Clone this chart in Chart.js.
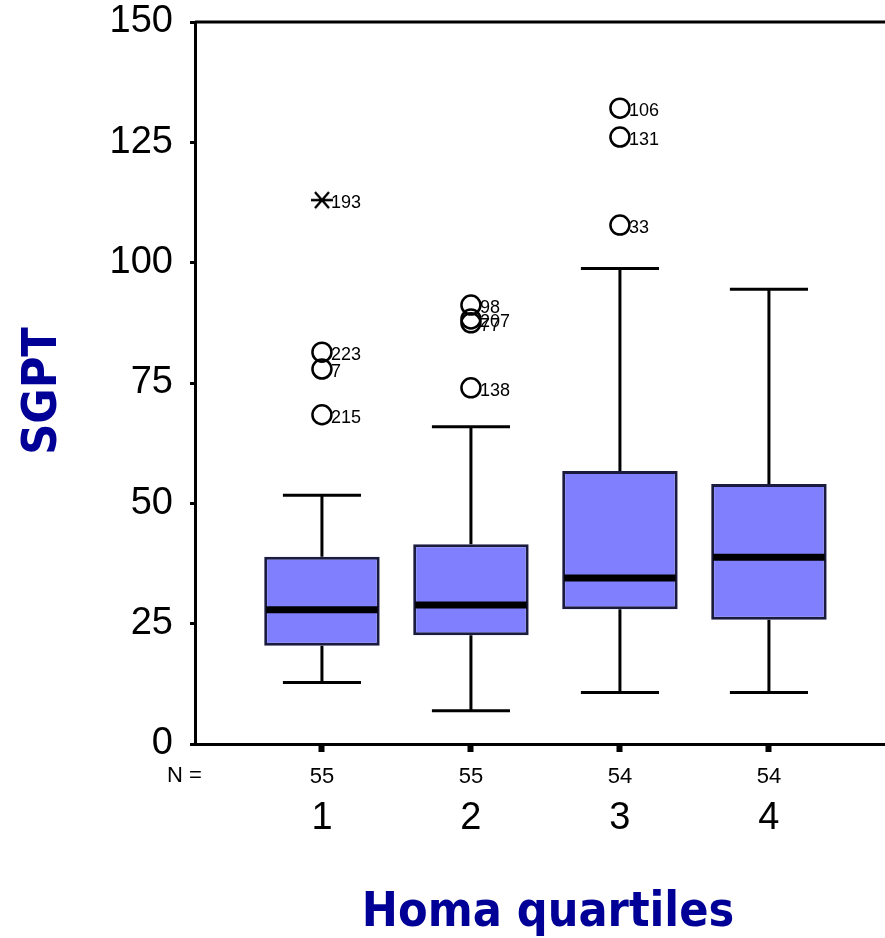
<!DOCTYPE html>
<html>
<head>
<meta charset="utf-8">
<script src="https://cdn.jsdelivr.net/npm/chart.js@4"></script>
<style>
  html, body { margin: 0; padding: 0; background: #fff; overflow: hidden; }
  canvas { display: block; }
</style>
</head>
<body>
<canvas id="box" width="885" height="938"></canvas>
<script>
// quartile groups and box statistics
const groups = [1, 2, 3, 4];
const nCounts = [55, 55, 54, 54];
const q1 = [20.4, 22.6, 28.0, 25.8];
const q3 = [38.9, 41.5, 56.7, 54.0];
const medians = [27.9, 28.9, 34.5, 38.8];
const whiskLo = [12.8, 6.9, 10.7, 10.7];
const whiskHi = [51.7, 65.9, 98.8, 94.5];

// outliers (circles) and extremes (asterisks) with case numbers
const outGroup = [1, 1, 1, 2, 2, 2, 2, 3, 3, 3];
const outValue = [81.4, 77.9, 68.4, 91.2, 88.3, 87.5, 74.0, 132.1, 126.1, 107.8];
const outCase = ["223", "7", "215", "98", "207", "77", "138", "106", "131", "33"];
const extGroup = [1];
const extValue = [113.0];
const extCase = ["193"];

const yMin = 0, yMax = 150, yStep = 25;

const FONT = "'Liberation Sans', Arial, sans-serif";
const TITLE_FONT = "'DejaVu Sans Condensed', 'DejaVu Sans', sans-serif";
const TITLE_COLOR = "#000096";
const BOX_HALF = 0.3875;   // half box width in x units
const CAP_HALF = 0.262;    // half whisker cap width

// asterisk marker for extreme values
function makeStar() {
  const c = document.createElement("canvas");
  c.width = 26; c.height = 26;
  const g = c.getContext("2d");
  g.strokeStyle = "#000";
  g.lineWidth = 2.4;
  g.beginPath();
  g.moveTo(2, 13); g.lineTo(24, 13);
  g.moveTo(6, 5); g.lineTo(20, 21);
  g.moveTo(20, 5); g.lineTo(6, 21);
  g.stroke();
  return c;
}

const boxDecor = {
  id: "boxDecor",
  beforeDatasetsDraw(chart) {
    const { ctx, scales: { x, y } } = chart;
    ctx.save();
    ctx.strokeStyle = "#000";
    ctx.lineWidth = 3;
    groups.forEach((g, i) => {
      const cx = x.getPixelForValue(g);
      const l = x.getPixelForValue(g - CAP_HALF), r = x.getPixelForValue(g + CAP_HALF);
      ctx.beginPath();
      ctx.moveTo(cx, y.getPixelForValue(q3[i]));
      ctx.lineTo(cx, y.getPixelForValue(whiskHi[i]));
      ctx.moveTo(cx, y.getPixelForValue(q1[i]));
      ctx.lineTo(cx, y.getPixelForValue(whiskLo[i]));
      ctx.moveTo(l, y.getPixelForValue(whiskHi[i]));
      ctx.lineTo(r, y.getPixelForValue(whiskHi[i]));
      ctx.moveTo(l, y.getPixelForValue(whiskLo[i]));
      ctx.lineTo(r, y.getPixelForValue(whiskLo[i]));
      ctx.stroke();
    });
    ctx.restore();
  },
  afterDatasetsDraw(chart) {
    const { ctx, chartArea, scales: { x, y } } = chart;
    ctx.save();
    // medians
    ctx.strokeStyle = "#000";
    ctx.lineWidth = 7;
    groups.forEach((g, i) => {
      const py = y.getPixelForValue(medians[i]);
      ctx.beginPath();
      ctx.moveTo(x.getPixelForValue(g - BOX_HALF) + 2, py);
      ctx.lineTo(x.getPixelForValue(g + BOX_HALF) - 2, py);
      ctx.stroke();
    });
    // case numbers beside outliers
    ctx.fillStyle = "#000";
    ctx.font = "18px " + FONT;
    ctx.textAlign = "left";
    ctx.textBaseline = "middle";
    const label = (g, v, t) => {
      ctx.fillText(t, x.getPixelForValue(g) + 9, y.getPixelForValue(v) + 3);
    };
    outGroup.forEach((g, i) => label(g, outValue[i], outCase[i]));
    extGroup.forEach((g, i) => label(g, extValue[i], extCase[i]));
    // top frame line
    ctx.lineWidth = 3;
    ctx.beginPath();
    ctx.moveTo(chartArea.left, chartArea.top);
    ctx.lineTo(chartArea.right, chartArea.top);
    ctx.stroke();
    ctx.restore();
  },
  afterDraw(chart) {
    const { ctx } = chart;
    ctx.save();
    ctx.fillStyle = "#000";
    ctx.font = "22px " + FONT;
    ctx.textAlign = "left";
    ctx.textBaseline = "middle";
    ctx.fillText("N =", 167, 776);

    ctx.fillStyle = TITLE_COLOR;
    ctx.font = "bold 48px " + TITLE_FONT;
    ctx.textAlign = "center";
    ctx.textBaseline = "alphabetic";
    ctx.fillText("Homa quartiles", 548, 926);

    ctx.translate(56, 391);
    ctx.rotate(-Math.PI / 2);
    ctx.fillText("SGPT", 0, 0);
    ctx.restore();
  }
};

const xMin = 0.148, xMax = 4.779;
const fixTicks = s => { s.ticks = groups.map(v => ({ value: v })); };
// keep the plot frame fixed: no extra room reserved for edge labels
const noEdgePad = s => { s.paddingLeft = 0; s.paddingRight = 0; s.paddingTop = 0; s.paddingBottom = 0; };

new Chart(document.getElementById("box"), {
  type: "bar",
  data: {
    datasets: [
      {
        type: "scatter",
        data: extGroup.map((g, i) => ({ x: g, y: extValue[i] })),
        pointStyle: makeStar(),
        order: 0
      },
      {
        type: "scatter",
        data: outGroup.map((g, i) => ({ x: g, y: outValue[i] })),
        pointStyle: "circle",
        pointRadius: 9.5,
        pointBorderWidth: 2.5,
        pointBorderColor: "#000",
        pointBackgroundColor: "rgba(255,255,255,0)",
        order: 1
      },
      {
        type: "bar",
        data: groups.map((g, i) => ({ x: g, y: [q1[i], q3[i]] })),
        backgroundColor: "#8080ff",
        borderColor: "#1b1b3f",
        borderWidth: 3,
        borderSkipped: false,
        barPercentage: 1,
        categoryPercentage: BOX_HALF * 2,
        order: 2
      }
    ]
  },
  options: {
    responsive: false,
    animation: false,
    devicePixelRatio: 1,
    layout: { autoPadding: false, padding: { top: 22, left: 0, right: 0, bottom: 0 } },
    plugins: { legend: { display: false }, tooltip: { enabled: false } },
    scales: {
      x: {
        type: "linear",
        position: "bottom",
        offset: false,
        min: xMin, max: xMax,
        afterBuildTicks: fixTicks,
        afterFit: s => { s.height = 44; noEdgePad(s); },
        ticks: {
          callback: v => String(nCounts[groups.indexOf(v)]),
          font: { size: 22, family: FONT },
          color: "#000",
          padding: 12,
          maxRotation: 0
        },
        grid: { offset: false, drawOnChartArea: false, drawTicks: true, tickLength: 8, tickWidth: 6, tickColor: "#000" },
        border: { color: "#000", width: 3 }
      },
      xc: {
        type: "linear",
        position: "bottom",
        offset: false,
        min: xMin, max: xMax,
        afterBuildTicks: fixTicks,
        afterFit: s => { s.height = 150; noEdgePad(s); },
        ticks: {
          callback: v => String(v),
          font: { size: 38, family: FONT },
          color: "#000",
          padding: 0,
          maxRotation: 0
        },
        grid: { display: false, offset: false },
        border: { display: false }
      },
      y: {
        min: yMin, max: yMax,
        afterFit: s => { s.width = 195; noEdgePad(s); },
        ticks: {
          stepSize: yStep,
          font: { size: 38, family: FONT },
          color: "#000",
          padding: 17
        },
        grid: { drawOnChartArea: false, drawTicks: true, tickLength: 5, tickWidth: 3, tickColor: "#000" },
        border: { color: "#000", width: 3 }
      }
    }
  },
  plugins: [boxDecor]
});
</script>
</body>
</html>
